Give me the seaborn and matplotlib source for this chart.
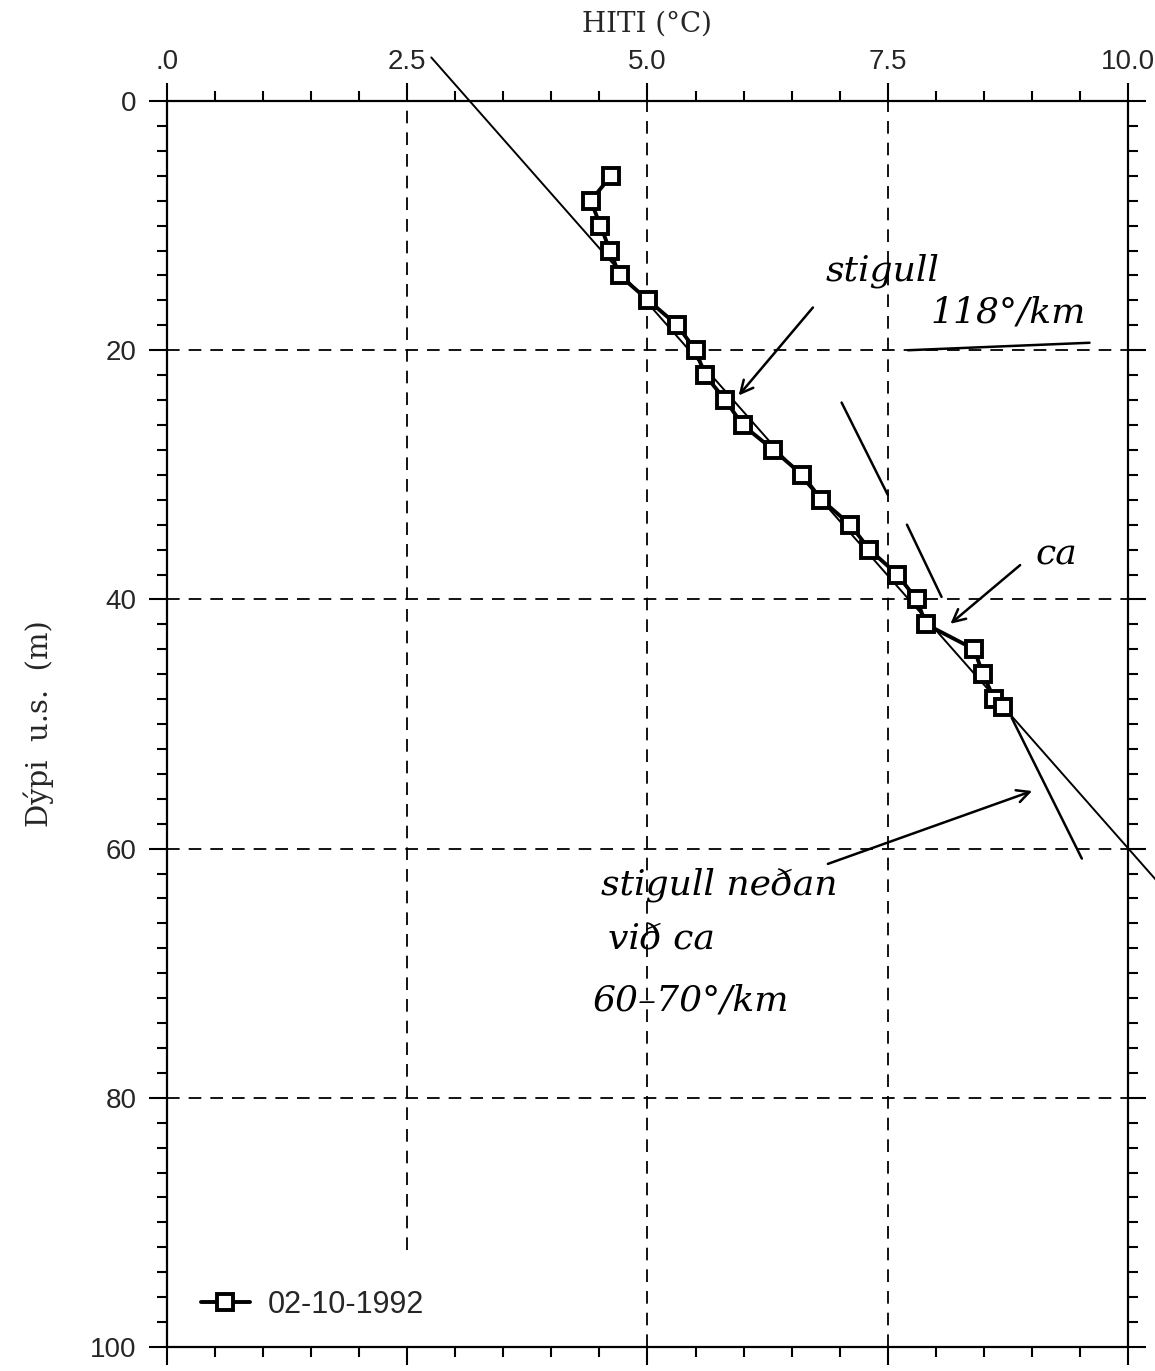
import numpy as np
import pandas as pd
import matplotlib
matplotlib.use("Agg")
import matplotlib.pyplot as plt
from matplotlib.ticker import MultipleLocator, FixedLocator, FixedFormatter
import seaborn as sns

# measured profile 02-10-1992
depth = [6, 8, 10, 12, 14, 16, 18, 20, 22, 24, 26, 28, 30, 32, 34, 36, 38, 40, 42, 44, 46, 48, 48.6]
temp = [4.62, 4.41, 4.51, 4.61, 4.71, 5.01, 5.31, 5.50, 5.60, 5.81, 5.99, 6.31, 6.61, 6.81,
        7.11, 7.31, 7.60, 7.80, 7.90, 8.40, 8.49, 8.61, 8.70]
series_label = "02-10-1992"

# straight gradient line drawn on the sheet
fit_depth = [-3.5, 62.5]
fit_temp = [2.75, 10.29]

# hand drawn strokes (temp, depth)
hand_seg1 = ([7.02, 7.50], [24.2, 31.6])
hand_seg2 = ([7.70, 8.06], [34.0, 39.8])
hand_seg3 = ([8.79, 9.52], [49.5, 60.8])
underline = ([7.71, 9.60], [20.0, 19.4])

x_ticks = [0, 2.5, 5.0, 7.5, 10.0]
x_ticklabels = [".0", "2.5", "5.0", "7.5", "10.0"]
y_ticks = [0, 20, 40, 60, 80, 100]

sns.set_style("white")
plt.rcParams["font.family"] = ["Liberation Sans", "DejaVu Sans"]

df = pd.DataFrame({"temp": temp, "depth": depth})

fig = plt.figure(figsize=(11.55, 13.71), dpi=100)
ax = fig.add_axes([0.1446, 0.0175, 0.832, 0.9088])

# dashed grid
dash = (0, (7, 5))
for yv in [20, 40, 60, 80]:
    ax.axhline(yv, color="black", lw=1.3, ls=dash, zorder=1)
for xv in [5.0, 7.5]:
    ax.axvline(xv, color="black", lw=1.3, ls=dash, zorder=1)
ax.axvline(2.5, ymin=0.078, ymax=1, color="black", lw=1.3, ls=dash, zorder=1)

ax.plot(fit_temp, fit_depth, color="black", lw=1.4, clip_on=False, zorder=2)

sns.lineplot(data=df, x="temp", y="depth", sort=False, estimator=None, ax=ax,
             color="black", lw=2.8, marker="s", markersize=12, markerfacecolor="white",
             markeredgecolor="black", markeredgewidth=2.8, label=series_label, zorder=3)

ax.set_xlim(0, 10)
ax.set_ylim(100, 0)

ax.xaxis.tick_top()
ax.xaxis.set_label_position("top")
ax.xaxis.set_major_locator(FixedLocator(x_ticks))
ax.xaxis.set_major_formatter(FixedFormatter(x_ticklabels))
ax.xaxis.set_minor_locator(MultipleLocator(0.5))
ax.yaxis.set_major_locator(FixedLocator(y_ticks))
ax.yaxis.set_minor_locator(MultipleLocator(2))

ax.tick_params(which="both", direction="out", top=True, bottom=True, left=True, right=True,
               labeltop=True, labelbottom=False, labelleft=True, labelright=False,
               color="black", width=1.5)
ax.tick_params(which="major", length=13, labelsize=20)
ax.tick_params(axis="x", which="major", pad=6)
ax.tick_params(axis="y", which="major", pad=9)
ax.tick_params(which="minor", length=7)
for s in ax.spines.values():
    s.set_linewidth(1.6)
    s.set_color("black")

ax.set_xlabel("HITI (\u00b0C)", fontsize=20, family="DejaVu Serif", labelpad=12)
ax.set_ylabel("D\u00fdpi  u.s.  (m)", fontsize=21, family="DejaVu Serif", labelpad=26)

leg = ax.legend(loc="center left", bbox_to_anchor=(0.035, 0.034), frameon=False,
                fontsize=22, handlelength=1.6, handletextpad=0.6, borderpad=0, borderaxespad=0)

# handwritten notes
hw = dict(family="DejaVu Serif", style="italic", fontsize=26, color="black")
ax.text(7.45, 13.6, "stigull", ha="center", va="center", **hw)
ax.text(8.75, 17.0, "118\u00b0/km", ha="center", va="center", **hw)
ax.text(9.25, 36.4, "ca", ha="center", va="center", **hw)
ax.text(5.75, 62.9, "stigull ne\u00f0an", ha="center", va="center", **hw)
ax.text(5.15, 67.3, "vi\u00f0 ca", ha="center", va="center", **hw)
ax.text(5.45, 72.2, "60\u201370\u00b0/km", ha="center", va="center", **hw)

for seg in [hand_seg1, hand_seg2, hand_seg3, underline]:
    ax.plot(seg[0], seg[1], color="black", lw=1.8, zorder=2)

arrow = dict(arrowstyle="->,head_length=0.9,head_width=0.45", color="black", lw=1.8)
ax.annotate("", xy=(5.93, 23.8), xytext=(6.74, 16.4), arrowprops=arrow)
ax.annotate("", xy=(8.13, 42.1), xytext=(8.90, 37.1), arrowprops=arrow)
ax.annotate("", xy=(9.03, 55.3), xytext=(6.85, 61.3), arrowprops=arrow)

fig.savefig("out.png", dpi=100)
plt.close(fig)
